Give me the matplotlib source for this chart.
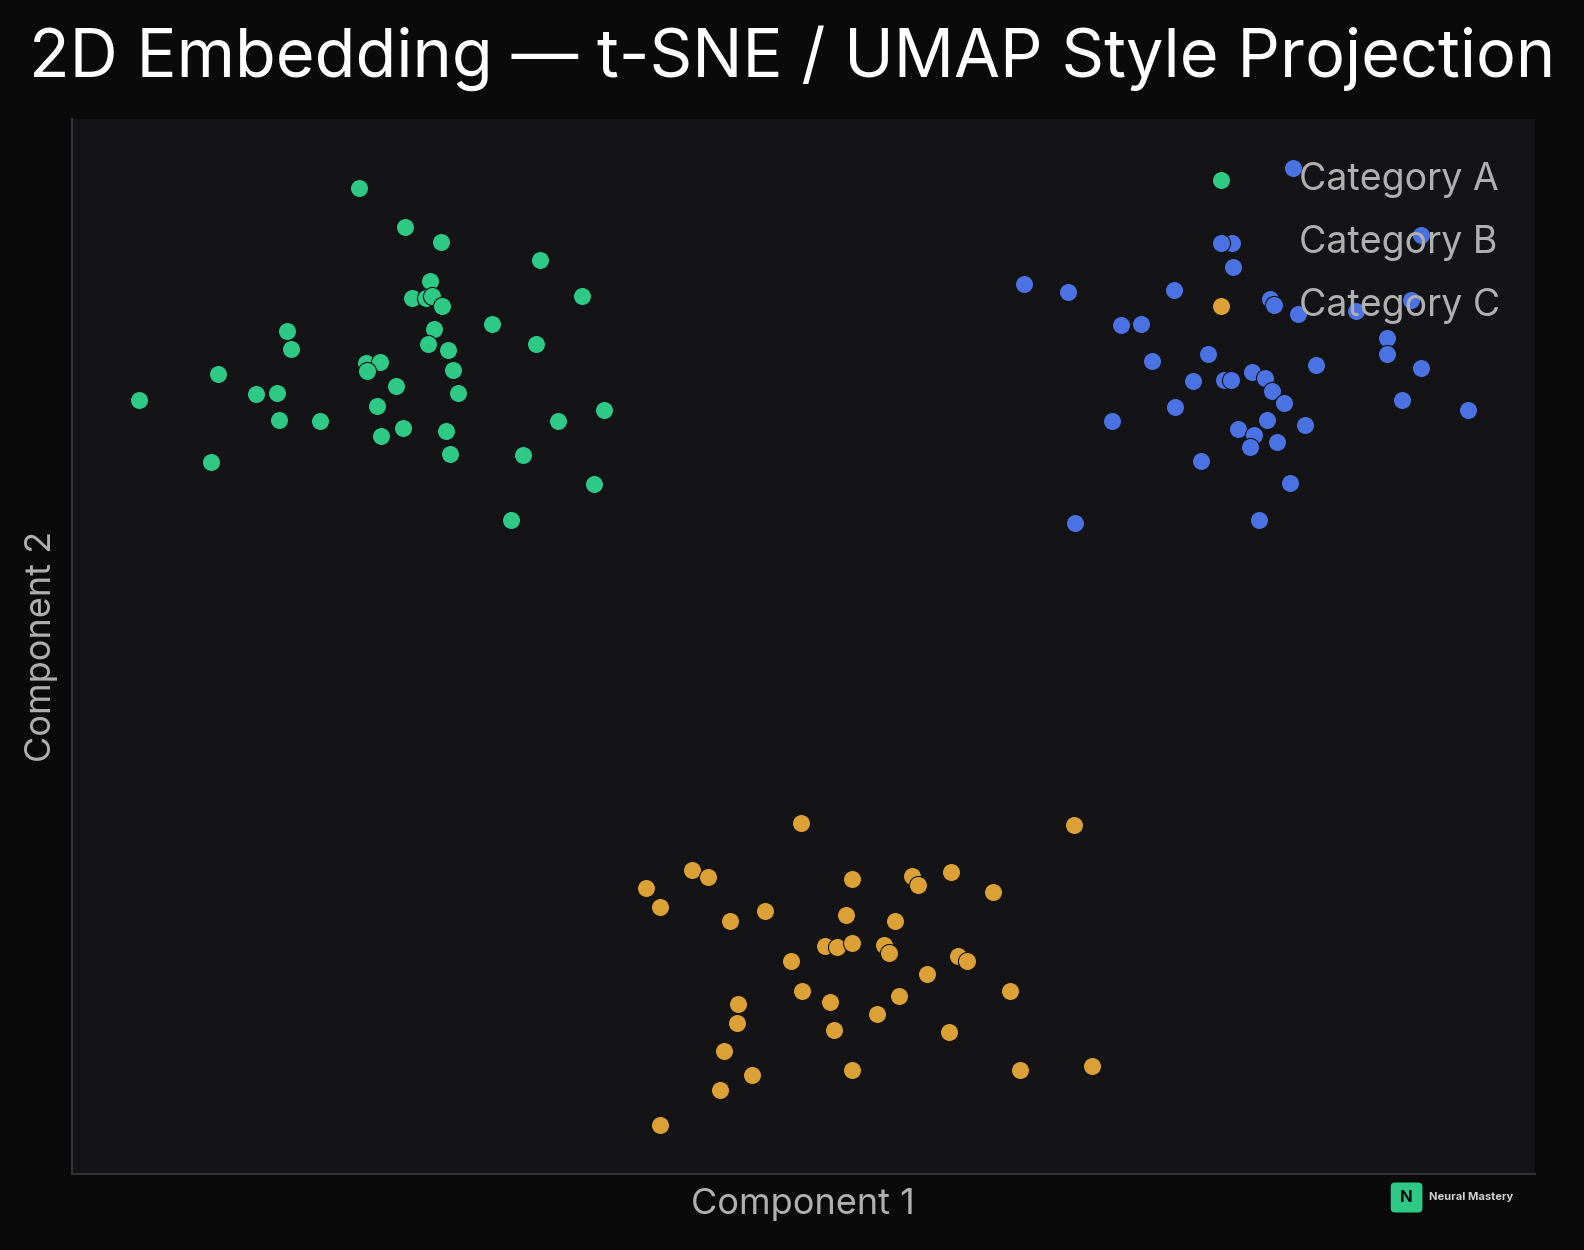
import matplotlib.pyplot as plt
from matplotlib.patches import FancyBboxPatch

plt.rcParams['font.family'] = ['Inter', 'DejaVu Sans']

# values (arbitrary embedding units)
a_x = [35.5, 40.1, 43.7, 53.5, 42.6, 40.8, 42.2, 42.8, 43.8, 57.6, 28.4, 28.8, 48.7, 43.0, 53.1, 42.4, 44.4, 36.2, 37.6, 36.3,
       44.9, 21.6, 39.2, 13.8, 25.3, 27.4, 45.4, 37.3, 59.8, 27.6, 31.7, 55.3, 39.9, 44.2, 37.7, 44.6, 51.8, 20.9, 58.8, 50.6]
a_y = [106.4, 102.5, 101.0, 99.3, 97.2, 95.5, 95.5, 95.7, 94.7, 95.7, 92.2, 90.5, 92.9, 92.4, 90.9, 90.9, 90.4, 89.1, 89.2, 88.3,
       88.4, 88.0, 86.8, 85.4, 86.0, 86.1, 86.1, 84.8, 84.4, 83.4, 83.3, 83.3, 82.6, 82.3, 81.8, 80.1, 80.0, 79.3, 77.1, 73.5]

b_x = [128.0, 140.7, 122.0, 122.1, 101.4, 105.8, 116.3, 125.8, 126.2, 128.5, 134.3, 139.7, 111.0, 113.0, 137.4, 114.1, 119.6,
       137.4, 130.3, 140.7, 118.1, 121.2, 121.9, 124.0, 125.3, 126.0, 127.2, 138.8, 145.4, 116.4, 110.1, 125.5, 129.2, 122.6,
       124.2, 123.8, 126.5, 118.9, 127.7, 124.7, 106.5]
b_y = [108.4, 101.7, 100.9, 98.6, 96.9, 96.1, 96.3, 95.4, 94.8, 93.9, 94.2, 95.3, 92.8, 92.9, 91.5, 89.3, 90.0, 90.0, 88.9, 88.6,
       87.3, 87.4, 87.4, 88.2, 87.6, 86.3, 85.1, 85.4, 84.4, 84.7, 83.3, 83.4, 82.9, 82.5, 81.9, 80.8, 81.2, 79.4, 77.2, 73.5, 73.2]

c_x = [79.3, 106.4, 68.5, 70.1, 84.4, 90.3, 94.2, 90.9, 64.0, 98.3, 65.4, 75.8, 72.3, 83.8, 88.6, 81.7, 82.9, 84.4, 87.5, 88.0,
       78.3, 94.9, 95.8, 91.8, 79.4, 100.0, 82.2, 89.0, 73.1, 86.8, 73.0, 82.6, 94.0, 71.7, 84.4, 101.0, 108.1, 74.5, 71.3, 65.4]
c_y = [43.5, 43.3, 38.9, 38.2, 38.0, 38.3, 38.7, 37.4, 37.1, 36.7, 35.2, 34.8, 33.8, 34.4, 33.8, 31.3, 31.2, 31.6, 31.4, 30.7,
       29.9, 30.4, 29.9, 28.6, 26.9, 26.9, 25.8, 26.4, 25.6, 24.6, 23.7, 23.0, 22.8, 21.0, 19.1, 19.1, 19.5, 18.6, 17.1, 13.6]

categories = ["Category A", "Category B", "Category C"]
colors = ["#2ec985", "#4a72e3", "#dca136"]

fig = plt.figure(figsize=(15.84, 12.5), dpi=100, facecolor="#0a0a0a")
ax = fig.add_axes([0.0453, 0.061, 0.9237, 0.8436], facecolor="#141416")

for name, xs, ys, c in zip(categories, [a_x, b_x, c_x], [a_y, b_y, c_y], colors):
    ax.scatter(xs, ys, s=170, color=c, edgecolor="#141416", linewidth=0.8, label=name, zorder=3)

ax.set_xlim(7.1, 152.0)
ax.set_ylim(8.8, 113.2)
ax.set_xticks([])
ax.set_yticks([])
for side in ["top", "right"]:
    ax.spines[side].set_visible(False)
for side in ["left", "bottom"]:
    ax.spines[side].set_color("#333336")
    ax.spines[side].set_linewidth(1.5)

ax.set_xlabel("Component 1", fontsize=26, color="#b0b0b0", labelpad=10)
ax.set_ylabel("Component 2", fontsize=26, color="#b0b0b0", labelpad=10)
fig.suptitle("2D Embedding — t-SNE / UMAP Style Projection", fontsize=48, color="white", y=0.98)

leg = ax.legend(loc="upper right", bbox_to_anchor=(0.997, 0.988), frameon=False, fontsize=27,
                labelcolor="#b0b0b0", handletextpad=1.1, labelspacing=0.72, borderaxespad=0.4)

# watermark
fig.patches.append(FancyBboxPatch((0.879, 0.031), 0.018, 0.022, boxstyle="round,pad=0.001,rounding_size=0.003",
                                  transform=fig.transFigure, facecolor="#2ec985", edgecolor="none"))
fig.text(0.888, 0.042, "N", fontsize=12, fontweight="bold", color="#0a0a0a", ha="center", va="center")
fig.text(0.902, 0.042, "Neural Mastery", fontsize=8, fontweight="bold", color="#d0d0d0", va="center")

fig.savefig("out.png", dpi=100, facecolor=fig.get_facecolor())
